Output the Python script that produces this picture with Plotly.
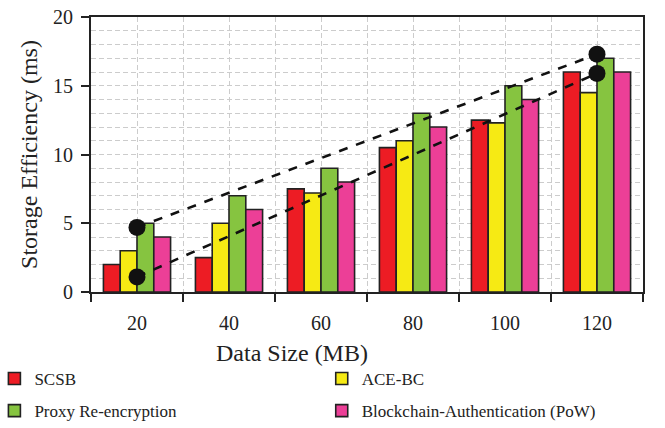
import plotly.graph_objects as go

data_sizes = [20, 40, 60, 80, 100, 120]
scsb = [2.0, 2.5, 7.5, 10.5, 12.5, 16.0]
ace_bc = [3.0, 5.0, 7.2, 11.0, 12.3, 14.5]
proxy = [5.0, 7.0, 9.0, 13.0, 15.0, 17.0]
blockchain = [4.0, 6.0, 8.0, 12.0, 14.0, 16.0]

trend_x = [20, 120]
trend_upper = [4.7, 17.3]
trend_lower = [1.1, 15.9]

series = [
    ("SCSB", scsb, "#ED1C24", "legend"),
    ("ACE-BC", ace_bc, "#F6EA14", "legend2"),
    ("Proxy Re-encryption", proxy, "#86C440", "legend"),
    ("Blockchain-Authentication (PoW)", blockchain, "#EC3F97", "legend2"),
]

FONT = "Liberation Serif"
fig = go.Figure()
for name, vals, col, lg in series:
    fig.add_trace(go.Bar(x=data_sizes, y=vals, name=name, legend=lg, legendgroup=name,
                         marker=dict(color=col, line=dict(color="#222222", width=1.6))))

for tr in (trend_upper, trend_lower):
    fig.add_trace(go.Scatter(x=trend_x, y=tr, mode="lines+markers", showlegend=False,
                             line=dict(color="#111111", width=2.6, dash="dash"),
                             marker=dict(color="#111111", size=17)))

grid = "#cccccc"
gdash = "5px,3px"
leg_common = dict(orientation="v", xanchor="left", yanchor="top", yref="paper", xref="paper",
                  font=dict(size=17, family=FONT), itemwidth=30, tracegroupgap=7,
                  bgcolor="rgba(0,0,0,0)")
fig.update_layout(
    width=665, height=428,
    margin=dict(l=91, r=22, t=17, b=136, autoexpand=False),
    paper_bgcolor="white", plot_bgcolor="white",
    barmode="group", bargap=0.27, bargroupgap=0,
    font=dict(family=FONT, color="#222222", size=20),
    xaxis=dict(range=[10, 130], tickvals=data_sizes, ticks="", showgrid=True, automargin=False,
               gridcolor=grid, griddash=gdash, gridwidth=1.2, ticklabelstandoff=12,
               showline=True, linecolor="#222222", linewidth=2, mirror=True,
               tickfont=dict(size=20), zeroline=False,
               minor=dict(tick0=10, dtick=20, ticks="outside", ticklen=8, tickcolor="#222222", tickwidth=1.5,
                          showgrid=True, gridcolor=grid, griddash=gdash, gridwidth=1.2)),
    yaxis=dict(range=[0, 20], dtick=5, ticks="outside", ticklen=8, tickcolor="#222222", tickwidth=1.5,
               showgrid=True, gridcolor=grid, griddash=gdash, gridwidth=1.2, automargin=False,
               showline=True, linecolor="#222222", linewidth=2, mirror=True, zeroline=False,
               tickfont=dict(size=20), ticklabelstandoff=4,
               minor=dict(dtick=1, showgrid=True, gridcolor=grid, griddash=gdash, gridwidth=1.2),
               title=dict(text="Storage Efficiency (ms)", font=dict(size=24), standoff=9)),
    legend=dict(leg_common, x=-0.175, y=-0.251),
    legend2=dict(leg_common, x=0.418, y=-0.251),
    annotations=[dict(text="Data Size (MB)", xref="paper", yref="paper", x=0.364, y=-0.22,
                      xanchor="center", yanchor="middle", showarrow=False, font=dict(size=24))],
)
fig.write_html("out.html", config={"displayModeBar": False},
               post_script="document.body.style.margin='0';")
